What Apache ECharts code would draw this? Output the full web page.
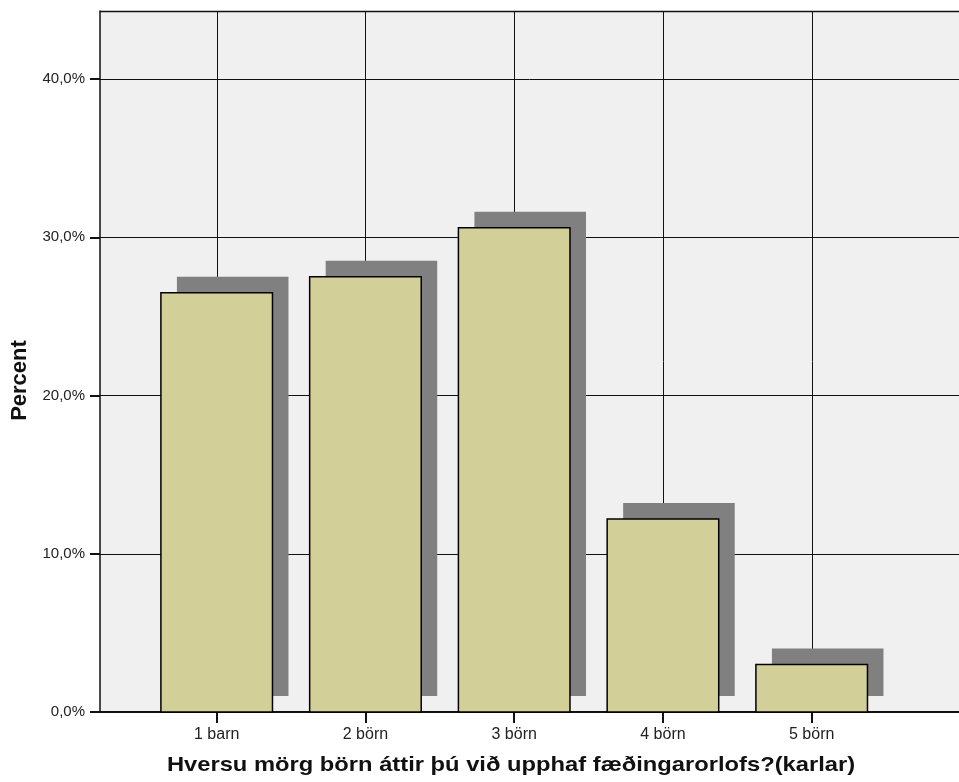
<!DOCTYPE html>
<html>
<head>
<meta charset="utf-8">
<script src="https://cdn.jsdelivr.net/npm/echarts@6/dist/echarts.min.js"></script>
<style>
html,body{margin:0;padding:0;background:#fff;}
#chart{width:959px;height:782px;}
</style>
</head>
<body>
<div id="chart"></div>
<script>
const categories = ['1 barn', '2 börn', '3 börn', '4 börn', '5 börn'];
const percentValues = [26.5, 27.5, 30.6, 12.2, 3.0];
const yTickValues = [0, 10, 20, 30, 40];
const xTitle = 'Hversu mörg börn áttir þú við upphaf fæðingarorlofs?(karlar)';
const yTitle = 'Percent';

const positions = categories.map((c, i) => i + 1);
const barData = categories.map((c, i) => [i + 1, percentValues[i]]);
const gridData = positions.map(p => [p]);

const chart = echarts.init(document.getElementById('chart'), null, {renderer: 'canvas'});
const FONT = '"Liberation Sans", Arial, sans-serif';
const HALF = 0.375;
const SHADOW = 16;
const YMAX = 44.3;

chart.setOption({
  animation: false,
  backgroundColor: '#ffffff',
  grid: {
    left: 100, top: 11, width: 859, height: 701,
    show: true, backgroundColor: '#f0f0f0', borderWidth: 0
  },
  xAxis: {
    type: 'value',
    min: 0.2155,
    max: 5.9903,
    splitLine: {show: false},
    axisLine: {show: true, onZero: false, lineStyle: {color: '#111', width: 2}},
    axisTick: {show: true, length: 11, customValues: positions, lineStyle: {color: '#111', width: 2}},
    axisLabel: {
      show: true, customValues: positions, margin: 15,
      fontFamily: FONT, fontSize: 16, color: '#222',
      formatter: v => categories[Math.round(v) - 1] || ''
    }
  },
  yAxis: {
    type: 'value',
    min: 0,
    max: YMAX,
    interval: 10,
    splitLine: {show: true, lineStyle: {color: '#111', width: 1}},
    axisLine: {show: true, lineStyle: {color: '#111', width: 1.5}},
    axisTick: {show: true, length: 10, customValues: yTickValues, lineStyle: {color: '#111', width: 2}},
    axisLabel: {
      customValues: yTickValues, margin: 15,
      fontFamily: FONT, fontSize: 15, color: '#222',
      formatter: v => v.toFixed(1).replace('.', ',') + '%'
    }
  },
  graphic: [
    {
      type: 'line', z: 100,
      shape: {x1: 100, y1: 11.5, x2: 959, y2: 11.5},
      style: {stroke: '#111', lineWidth: 1.5}
    },
    {
      type: 'text', z: 100,
      x: 511, y: 755, scaleX: 1.13,
      style: {text: xTitle, font: 'bold 21px ' + FONT, fill: '#111', align: 'center', verticalAlign: 'top'}
    },
    {
      type: 'text', z: 100,
      x: 20, y: 380.5, rotation: Math.PI / 2,
      style: {text: yTitle, font: 'bold 22px ' + FONT, fill: '#111', align: 'center', verticalAlign: 'middle'}
    }
  ],
  series: [
    {
      type: 'custom',
      z: 1,
      data: gridData,
      renderItem: function (params, api) {
        const top = api.coord([api.value(0), YMAX]);
        const bot = api.coord([api.value(0), 0]);
        return {
          type: 'line',
          shape: {x1: Math.round(top[0]) + 0.5, y1: top[1], x2: Math.round(bot[0]) + 0.5, y2: bot[1]},
          style: {stroke: '#111', lineWidth: 1}
        };
      }
    },
    {
      type: 'custom',
      z: 2,
      data: barData,
      renderItem: function (params, api) {
        const x = api.value(0), y = api.value(1);
        const tl = api.coord([x - HALF, y]);
        const br = api.coord([x + HALF, 0]);
        const w = br[0] - tl[0], h = br[1] - tl[1];
        return {
          type: 'group',
          children: [
            {
              type: 'rect',
              shape: {x: tl[0] + SHADOW, y: tl[1] - SHADOW, width: w, height: h},
              style: {fill: '#808080'}
            },
            {
              type: 'rect',
              shape: {x: tl[0], y: tl[1], width: w, height: h},
              style: {fill: '#d3cf99', stroke: '#000', lineWidth: 1.5}
            }
          ]
        };
      }
    }
  ]
});
</script>
</body>
</html>
